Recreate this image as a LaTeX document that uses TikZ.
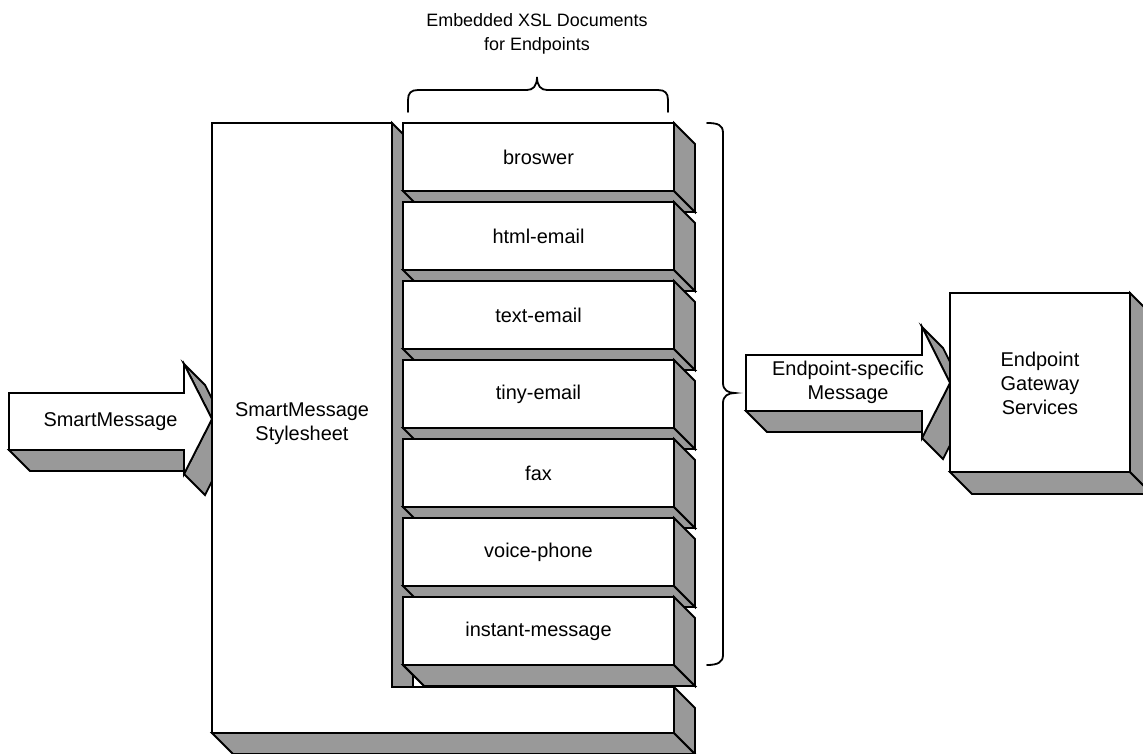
\documentclass[tikz,border=0pt]{standalone}
\usepackage{fontspec}
\setmainfont{Liberation Sans}
\definecolor{boxgray}{RGB}{153,153,153}
\begin{document}
\begin{tikzpicture}[x=1bp,y=-1bp,line width=1.8bp,
  face/.style={fill=boxgray,draw=black},
  front/.style={fill=white,draw=black},
  lbl/.style={font=\fontsize{20}{24}\selectfont,align=center,inner sep=0pt},
  toplbl/.style={font=\fontsize{18}{24}\selectfont,align=center,inner sep=0pt},
  bracepath/.style={draw=black,line width=1.8bp,line cap=round}]
\useasboundingbox (0,0) rectangle (1143,754);
\clip (0,0) rectangle (1143,754);

% ---- left arrow: SmartMessage
\draw[face] (9,450) -- (184,450) -- (205,471) -- (30,471) -- cycle;
\draw[face] (184,364) -- (212,419) -- (233,440) -- (205,385) -- cycle;
\draw[face] (212,419) -- (184,474) -- (205,495) -- (233,440) -- cycle;
\draw[front] (9,393) -- (184,393) -- (184,364) -- (212,419) -- (184,474) -- (184,450) -- (9,450) -- cycle;
\node[lbl] (smsg) at (110.5,421.5) {SmartMessage};

% ---- big stylesheet box
\draw[face] (212,733) -- (674,733) -- (695,754) -- (233,754) -- cycle;
\draw[face] (674,687) -- (695,708) -- (695,754) -- (674,733) -- cycle;
\draw[front] (212,123) -- (392,123) -- (392,687) -- (674,687) -- (674,733) -- (212,733) -- cycle;
\fill[boxgray] (392,123) -- (403,134) -- (674,134) -- (674,687) -- (392,687) -- cycle;
\draw (403,134) -- (392,123) -- (392,687) -- (674,687);
\node[lbl] (sheet) at (302,424) {SmartMessage\\Stylesheet};

% ---- embedded endpoint documents
\foreach \t/\n/\s in {123/d1/broswer,202/d2/html-email,281/d3/text-email,360/d4/tiny-email,439/d5/fax,518/d6/voice-phone,597/d7/instant-message}{
  \draw[front] (403,\t) rectangle ++(271,68);
  \draw[face] (403,\t) ++(0,68) -- ++(271,0) -- ++(21,21) -- ++(-271,0) -- cycle;
  \draw[face] (674,\t) -- ++(21,21) -- ++(0,68) -- ++(-21,-21) -- cycle;
  \path (538.5,\t) ++(0,34) node[lbl] (\n) {\s};
}
\fill[white] (413,675) -- (413,687) -- (424,687) -- cycle;
\draw (413,675) -- (413,687);
\draw (403,665) -- (425,687);
\draw (392,687) -- (674,687);

% ---- braces
\draw[bracepath] (408,112) -- (408,100) .. controls (408,93) and (411,90) .. (418,90)
  -- (527,90) .. controls (533,90) and (537,86) .. (537,77)
  .. controls (537,86) and (541,90) .. (547,90)
  -- (658,90) .. controls (665,90) and (668,93) .. (668,100) -- (668,112);
\node[toplbl] (xsl) at (537,33.5) {Embedded XSL Documents\\for Endpoints};

\draw[bracepath] (707,123) .. controls (718,123) and (723,125) .. (723,133)
  -- (723,383) .. controls (723,390) and (728,393) .. (735,393)
  .. controls (728,393) and (723,396) .. (723,403)
  -- (723,655) .. controls (723,662) and (718,665) .. (707,665);

% ---- right arrow: Endpoint-specific Message
\draw[face] (746,411) -- (922,411) -- (943,432) -- (767,432) -- cycle;
\draw[face] (922,327) -- (950,383) -- (971,404) -- (943,348) -- cycle;
\draw[face] (950,383) -- (922,438) -- (943,459) -- (971,404) -- cycle;
\draw[front] (746,355) -- (922,355) -- (922,327) -- (950,383) -- (922,438) -- (922,411) -- (746,411) -- cycle;
\node[lbl] (emsg) at (848,382.5) {Endpoint-specific\\Message};

% ---- Endpoint Gateway Services box
\draw[face] (950,472) -- (1130,472) -- (1152,494) -- (972,494) -- cycle;
\draw[face] (1130,293) -- (1152,315) -- (1152,494) -- (1130,472) -- cycle;
\draw[front] (950,293) rectangle (1130,472);
\node[lbl] (gw) at (1040,383) {Endpoint\\Gateway\\Services};
\end{tikzpicture}
\end{document}
